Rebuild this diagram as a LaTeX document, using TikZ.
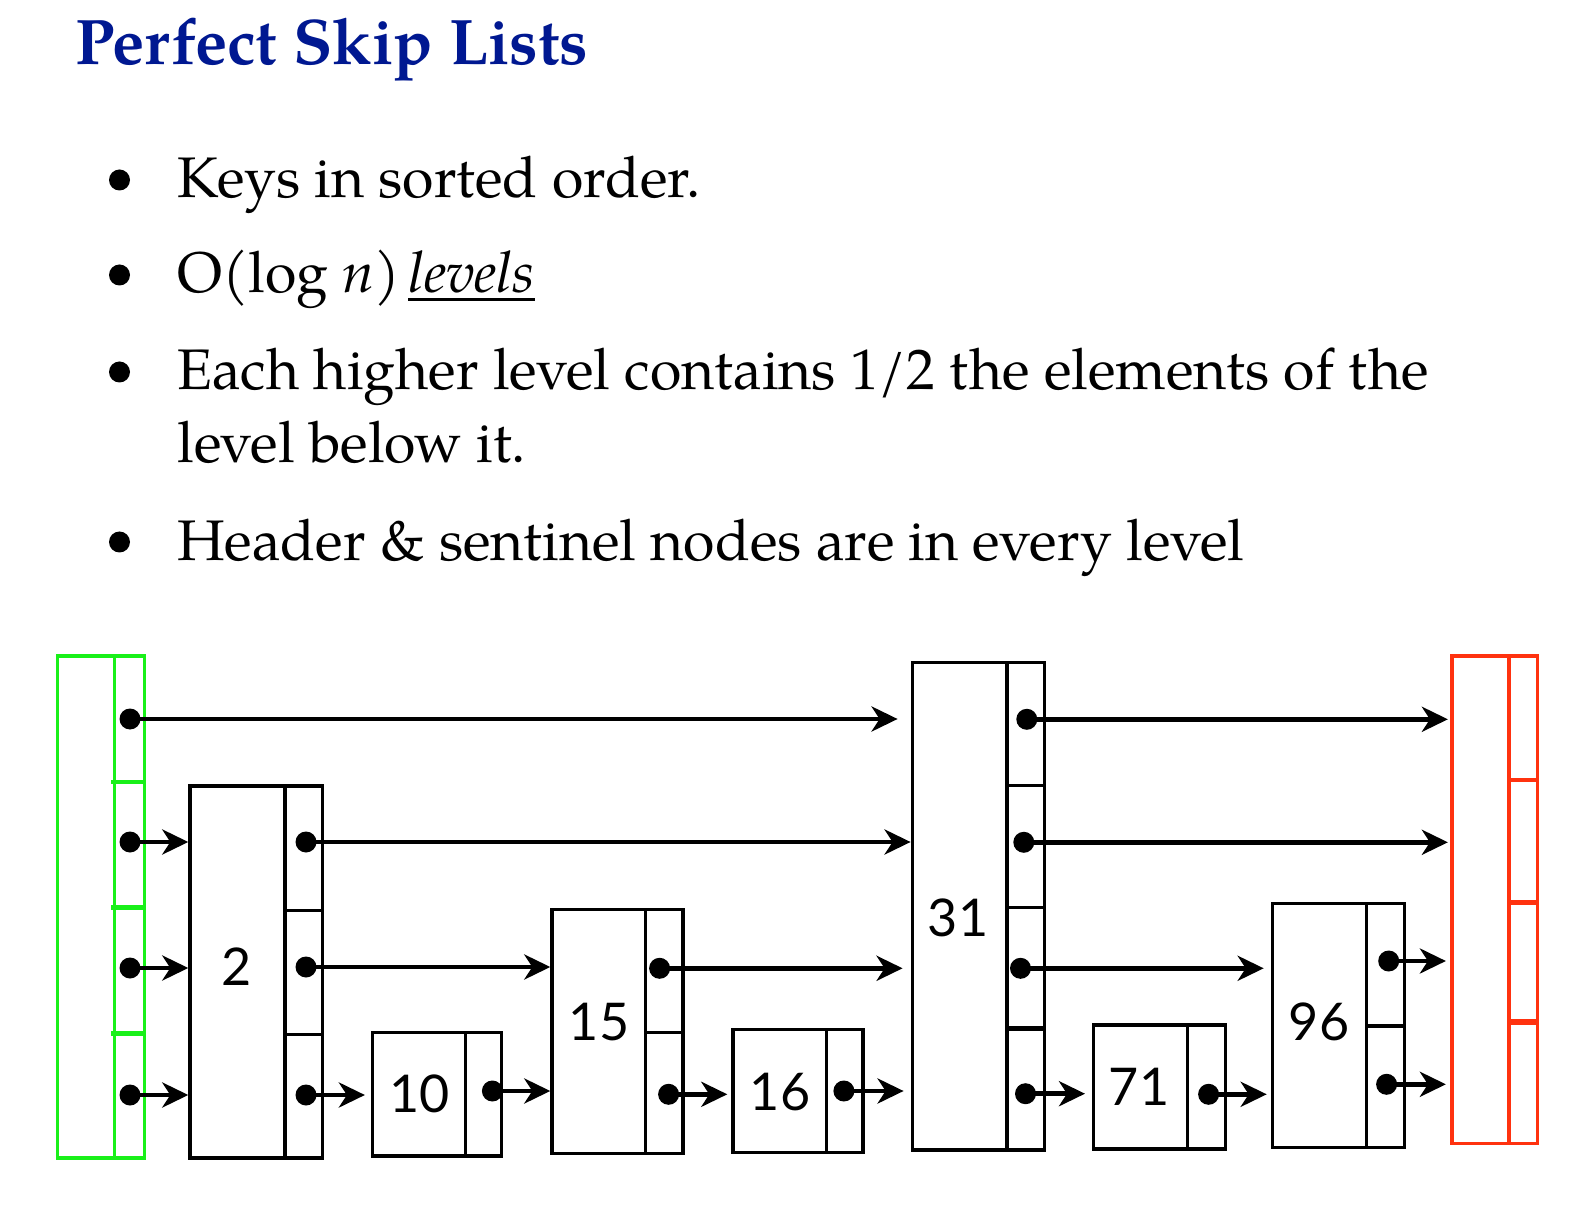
\documentclass[tikz,border=0pt]{standalone}
\usepackage{fontspec}
\IfFontExistsTF{TeX Gyre Pagella}{\setmainfont{TeX Gyre Pagella}}{\setmainfont{Liberation Serif}}
\newfontfamily\keyfont{Lato}
\usetikzlibrary{arrows.meta,fit}

\definecolor{titleblue}{RGB}{0,24,145}
\definecolor{headgreen}{RGB}{25,240,25}
\definecolor{tailred}{RGB}{255,50,15}

\newcommand\bodyfont{\fontsize{28.6}{33}\selectfont}
\newcommand\headfont{\fontsize{32.2}{38}\selectfont\bfseries}
% underline with a thicker rule
\newcommand\thickul[1]{\setbox0\hbox{#1}\rlap{\rule[-4.25pt]{\wd0}{1.5pt}}\box0}

% a skip-list node: outline, key/pointer divider
\newcommand\skipbox[8]{%
  \node[box, line width=#8, draw=#7, fit={(#2,#3) (#4,#5)}] (#1) {};
  \draw[#7, line width=#8] (#6,#3) -- (#6,#5);
}
% a level separator in the pointer column
\newcommand\levelsep[4]{\draw[#4] (#1,#3) -- (#2,#3);}

\begin{document}
\begin{tikzpicture}[x=0.5pt,y=-0.5pt,
  box/.style={inner sep=0pt},
  sep/.style={line width=1.7pt},
  dot/.style={circle, fill=black, inner sep=0pt, minimum size=10.5pt},
  ptr/.style={line width=2.4pt, -{Stealth[length=13pt,width=12.5pt,inset=4pt]}},
  keylabel/.style={inner sep=0pt, font=\keyfont\fontsize{26}{26}\selectfont},
  bodytext/.style={anchor=base west, inner sep=0pt, font=\bodyfont},
  bulletdot/.style={circle, fill=black, inner sep=0pt, minimum size=10.5pt}]

\useasboundingbox[fill=white] (0,0) rectangle (1579,1224);

% heading and bullet list
\node[anchor=base west, inner sep=0pt, text=titleblue, font=\headfont] (title) at (75,65) {Perfect Skip Lists};

\node[bulletdot] (b1) at (119.5,180) {};
\node[bodytext] (t1) at (177,198) {Keys in sorted order.};
\node[bulletdot] (b2) at (119.5,275) {};
\node[bodytext] (t2) at (177,293) {O(log \textit{n})\hspace{4pt}\textit{\thickul{levels}}};
\node[bulletdot] (b3) at (119.5,372) {};
\node[bodytext] (t3) at (177,390) {Each higher level contains 1/2 the elements of the};
\node[bodytext] (t3b) at (177,463) {level below it.};
\node[bulletdot] (b4) at (119.5,542) {};
\node[bodytext] (t4) at (177,560) {Header \& sentinel nodes are in every level};

% header (green) and sentinel (red)
\skipbox{head}{57.3}{656}{144.3}{1158}{114.3}{headgreen}{1.8pt}
\foreach \y in {781.7,907.3,1033.3} {\levelsep{111}{144.3}{\y}{headgreen, line width=2.2pt}}
\skipbox{tail}{1451.7}{656}{1537.5}{1143.3}{1509}{tailred}{1.8pt}
\levelsep{1509}{1537.5}{780}{tailred, line width=1.8pt}
\foreach \y in {902.3,1022} {\levelsep{1509}{1537.5}{\y}{tailred, line width=2.6pt}}

% list nodes
\skipbox{n2}{190}{786}{322.7}{1158}{285}{black}{1.7pt}
\foreach \y in {910.7,1034.3} {\levelsep{285}{322.7}{\y}{sep}}
\skipbox{n10}{372.6}{1032.7}{501.5}{1156}{465.2}{black}{1.7pt}
\skipbox{n15}{552}{909.3}{683}{1153.3}{645.5}{black}{1.7pt}
\levelsep{645.5}{683}{1032.7}{sep}
\skipbox{n16}{733}{1029.3}{863}{1152.7}{826.7}{black}{1.7pt}
\skipbox{n31}{912.3}{662.7}{1044.3}{1150}{1006.8}{black}{1.7pt}
\foreach \y in {785.3,907.3} {\levelsep{1006.8}{1044.3}{\y}{sep}}
\levelsep{1006.8}{1044.3}{1028.7}{line width=2.3pt}
\skipbox{n71}{1093.7}{1025}{1225.4}{1149}{1187.4}{black}{1.7pt}
\skipbox{n96}{1272.4}{903.3}{1404.3}{1147.3}{1366.5}{black}{1.7pt}
\levelsep{1366.5}{1404.3}{1026}{line width=2.3pt}

% keys
\node[keylabel] (k2) at (236.5,966.5) {2};
\node[keylabel] (k10) at (419.5,1094) {10};
\node[keylabel] (k15) at (599,1022) {15};
\node[keylabel] (k16) at (780,1092) {16};
\node[keylabel] (k31) at (958,918) {31};
\node[keylabel] (k71) at (1139,1087) {71};
\node[keylabel] (k96) at (1319,1022) {96};

% pointer dots
\node[dot] (g0) at (130,719) {};
\node[dot] (g1) at (130,842) {};
\node[dot] (g2) at (130,968) {};
\node[dot] (g3) at (130,1095) {};
\node[dot] (p2a) at (306,842) {};
\node[dot] (p2b) at (306,967) {};
\node[dot] (p2c) at (306,1095) {};
\node[dot] (p10) at (492.4,1091) {};
\node[dot] (p15a) at (659.6,968.3) {};
\node[dot] (p15b) at (668.6,1094.3) {};
\node[dot] (p16) at (843.9,1091) {};
\node[dot] (p31a) at (1026.8,719.3) {};
\node[dot] (p31b) at (1023.8,842.3) {};
\node[dot] (p31c) at (1020.5,968.3) {};
\node[dot] (p31d) at (1025.5,1093.7) {};
\node[dot] (p71) at (1208.6,1094.3) {};
\node[dot] (p96a) at (1388.7,961) {};
\node[dot] (p96b) at (1386.6,1084.3) {};

% forward pointers
\draw[ptr, shorten >=6.5pt] (g0.center) -- (g0.center -| n31.west);
\draw[ptr] (g1.center) -- (g1.center -| n2.west);
\draw[ptr] (g2.center) -- (g2.center -| n2.west);
\draw[ptr] (g3.center) -- (g3.center -| n2.west);
\draw[ptr] (p2a.center) -- (p2a.center -| n31.west);
\draw[ptr] (p2b.center) -- (p2b.center -| n15.west);
\draw[ptr, shorten >=3pt] (p2c.center) -- (p2c.center -| n10.west);
\draw[ptr] (p10.center) -- (p10.center -| n15.west);
\draw[ptr, shorten >=4pt] (p15a.center) -- (p15a.center -| n31.west);
\draw[ptr, shorten >=2pt] (p15b.center) -- (p15b.center -| n16.west);
\draw[ptr, shorten >=3.5pt] (p16.center) -- (p16.center -| n31.west);
\draw[ptr, shorten >=1pt] (p31a.center) -- (p31a.center -| tail.west);
\draw[ptr, shorten >=1pt] (p31b.center) -- (p31b.center -| tail.west);
\draw[ptr, shorten >=3.5pt] (p31c.center) -- (p31c.center -| n96.west);
\draw[ptr, shorten >=3.5pt] (p31d.center) -- (p31d.center -| n71.west);
\draw[ptr, shorten >=2pt] (p71.center) -- (p71.center -| n96.west);
\draw[ptr, shorten >=2pt] (p96a.center) -- (p96a.center -| tail.west);
\draw[ptr, shorten >=2pt] (p96b.center) -- (p96b.center -| tail.west);
\end{tikzpicture}
\end{document}
